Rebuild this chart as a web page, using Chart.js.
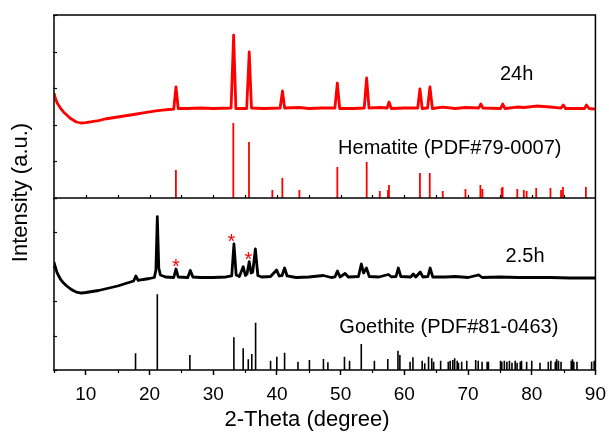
<!DOCTYPE html>
<html>
<head>
<meta charset="utf-8">
<script src="https://cdn.jsdelivr.net/npm/chart.js@4.4.0/dist/chart.umd.min.js"></script>
<style>
  html, body { margin: 0; padding: 0; background: #fff; }
</style>
</head>
<body>
<canvas id="xrd" width="609" height="432"></canvas>
<script>
const FONT = '"Liberation Sans", Arial, Helvetica, sans-serif';

// Measured pattern, sample after 24 h (2θ in degrees, intensity in counts)
const theta24h = [5.0, 5.2, 5.5, 6.0, 6.5, 7.0, 7.5, 8.0, 8.5, 9.2, 10.0, 11.0, 12.0, 13.0, 14.0, 15.0, 16.0, 17.0, 18.0, 19.0, 20.0, 21.0, 22.0, 23.0, 23.8, 24.15, 24.5, 26.0, 28.0, 30.0, 32.8, 33.2, 33.55, 35.25, 35.65, 36.0, 38.0, 40.5, 40.87, 41.2, 43.5, 45.0, 47.0, 49.1, 49.48, 49.85, 52.0, 53.7, 54.08, 54.45, 56.2, 57.3, 57.6, 57.95, 60.0, 62.1, 62.45, 62.8, 63.65, 64.02, 64.4, 66.0, 68.0, 69.6, 71.7, 72.0, 72.35, 75.1, 75.45, 75.8, 77.7, 78.8, 80.7, 82.9, 84.6, 84.95, 85.3, 88.3, 88.6, 89.0, 90.0];
const counts24h = [2891, 2746, 2601, 2456, 2341, 2254, 2167, 2109, 2051, 2022, 2036, 2065, 2094, 2138, 2167, 2196, 2225, 2254, 2283, 2312, 2341, 2370, 2398, 2413, 2427, 3065, 2442, 2442, 2456, 2442, 2456, 4570, 2442, 2442, 4078, 2456, 2442, 2456, 2949, 2456, 2471, 2442, 2456, 2456, 3180, 2442, 2442, 2456, 3325, 2456, 2471, 2456, 2630, 2442, 2456, 2456, 3007, 2442, 2456, 3065, 2442, 2485, 2442, 2471, 2456, 2572, 2456, 2442, 2572, 2442, 2485, 2471, 2514, 2485, 2456, 2543, 2442, 2442, 2543, 2442, 2427];

// Measured pattern, sample after 2.5 h
const theta2h5 = [5.0, 5.2, 5.5, 6.0, 6.5, 7.0, 7.5, 8.0, 8.5, 9.3, 10.0, 11.0, 12.0, 13.0, 14.0, 15.0, 16.0, 17.0, 17.5, 17.85, 18.2, 19.0, 20.0, 20.75, 21.0, 21.22, 21.45, 21.7, 22.5, 23.8, 24.15, 24.5, 26.0, 26.4, 26.8, 28.0, 30.0, 32.0, 32.9, 33.25, 33.6, 34.1, 34.7, 35.05, 35.3, 35.65, 35.95, 36.2, 36.62, 37.0, 37.6, 39.0, 39.95, 40.35, 40.8, 41.2, 41.6, 43.0, 45.0, 47.3, 48.5, 49.1, 49.5, 49.9, 50.7, 51.2, 52.8, 53.25, 53.6, 54.05, 54.5, 56.0, 57.5, 58.0, 58.7, 59.05, 59.45, 61.0, 61.4, 61.8, 62.5, 62.9, 63.7, 64.05, 64.45, 66.5, 68.0, 70.0, 71.7, 72.2, 75.0, 78.0, 80.0, 83.0, 86.0, 90.0];
const counts2h5 = [2940, 2794, 2620, 2445, 2329, 2242, 2169, 2111, 2067, 2038, 2053, 2082, 2111, 2155, 2198, 2242, 2300, 2358, 2387, 2533, 2402, 2431, 2460, 2489, 2707, 4257, 2765, 2562, 2504, 2489, 2736, 2504, 2489, 2693, 2504, 2489, 2489, 2504, 2533, 3463, 2562, 2518, 2803, 2547, 2591, 2948, 2620, 2649, 3317, 2547, 2504, 2518, 2707, 2533, 2547, 2765, 2533, 2489, 2504, 2547, 2489, 2504, 2678, 2504, 2605, 2504, 2518, 2881, 2620, 2765, 2518, 2504, 2576, 2504, 2518, 2765, 2518, 2504, 2591, 2504, 2649, 2504, 2518, 2765, 2504, 2504, 2518, 2489, 2562, 2489, 2504, 2489, 2489, 2489, 2474, 2474];

// Reference lines: hematite, PDF#79-0007
const hematitePos = [24.14, 33.15, 35.61, 39.28, 40.85, 43.52, 49.48, 54.09, 56.15, 57.43, 57.59, 62.45, 63.99, 66.03, 69.6, 71.94, 72.26, 75.28, 75.43, 77.73, 78.76, 79.2, 80.7, 82.94, 84.6, 84.9, 88.5];
const hematiteInt = [661, 2022, 1472, 82, 429, 82, 748, 893, 53, 82, 226, 574, 574, 53, 111, 226, 111, 140, 169, 111, 82, 53, 140, 140, 82, 169, 169];

// Reference lines: goethite, PDF#81-0463
const goethitePos = [17.8, 21.22, 26.33, 33.24, 34.7, 35.5, 36.05, 36.65, 39.0, 39.98, 41.2, 43.3, 45.1, 47.3, 48.0, 50.6, 51.4, 53.24, 55.3, 57.4, 59.0, 59.3, 60.9, 61.35, 62.8, 63.2, 63.8, 64.3, 64.6, 65.7, 66.9, 67.2, 67.6, 67.9, 68.3, 68.5, 69.0, 69.8, 71.2, 71.6, 72.2, 73.0, 73.2, 75.1, 75.3, 75.7, 76.1, 76.5, 76.9, 77.4, 77.7, 78.2, 78.4, 79.2, 80.0, 81.3, 82.6, 83.0, 83.7, 83.9, 84.2, 84.6, 86.2, 86.4, 86.6, 87.1, 89.4, 89.8];
const goethiteInt = [285, 2001, 236, 751, 431, 111, 265, 1175, 70, 187, 303, 41, 91, 120, 24, 187, 70, 556, 70, 120, 361, 236, 41, 169, 70, -5, 187, 140, 41, 70, 41, 70, 91, 140, 70, 12, 41, 70, 91, 70, 41, 41, 41, 70, 41, 70, 41, 70, 12, 70, 12, 41, 70, 41, 70, 12, 41, 70, 41, 111, 70, 41, 70, 111, 41, 41, 41, 70];

// Axis ranges of the two stacked panels
const xRange = { min: 5, max: 90 };
const topRange = { min: -150, max: 5150 };
const bottomRange = { min: -200, max: 4800 };

function pairs(xs, ys) {
  return xs.map((x, i) => ({ x: x, y: ys[i] }));
}

// Each reference line rises from the panel floor; null points split the segments.
function sticks(xs, ys, floor) {
  const out = [];
  xs.forEach((x, i) => {
    out.push({ x: x, y: floor }, { x: x, y: ys[i] }, { x: x, y: null });
  });
  return out;
}

const notes = [
  { text: '24h', x: 75.0, y: 3441, axis: 'yT', size: 20 },
  { text: 'Hematite (PDF#79-0007)', x: 49.6, y: 1298, axis: 'yT', size: 20 },
  { text: '2.5h', x: 75.9, y: 3114, axis: 'yB', size: 20 },
  { text: 'Goethite (PDF#81-0463)', x: 49.8, y: 1050, axis: 'yB', size: 20 }
];
const stars = [
  { x: 24.15, y: 2948 },
  { x: 32.85, y: 3675 },
  { x: 35.5, y: 3163 }
];

const frame = {
  id: 'frame',
  afterDatasetsDraw(chart) {
    const { ctx, chartArea: a, scales } = chart;
    const x = scales.x, yT = scales.yT, yB = scales.yB;
    ctx.save();
    ctx.strokeStyle = '#000';
    ctx.lineWidth = 1.5;
    ctx.strokeRect(a.left, a.top, a.right - a.left, a.bottom - a.top);
    ctx.beginPath();
    ctx.moveTo(a.left, yT.bottom);
    ctx.lineTo(a.right, yT.bottom);
    ctx.stroke();

    // inner y ticks of both panels
    ctx.lineWidth = 1.2;
    [yT, yB].forEach(s => {
      s.ticks.forEach(t => {
        const py = Math.round(s.getPixelForValue(t.value)) + 0.5;
        ctx.beginPath();
        ctx.moveTo(a.left - 1, py);
        ctx.lineTo(a.left + 3, py);
        ctx.stroke();
      });
    });

    // minor ticks on the bottom axis, small ticks on the panel divider
    for (let v = xRange.min; v <= xRange.max; v += 5) {
      const px = Math.round(x.getPixelForValue(v)) + 0.5;
      if (v % 10 !== 0) {
        ctx.beginPath();
        ctx.moveTo(px, a.bottom);
        ctx.lineTo(px, a.bottom + 3);
        ctx.stroke();
      }
      if (v > xRange.min && v < xRange.max) {
        ctx.beginPath();
        ctx.moveTo(px, yT.bottom);
        ctx.lineTo(px, yT.bottom - 3);
        ctx.stroke();
      }
    }

    ctx.fillStyle = '#000';
    ctx.textAlign = 'left';
    ctx.textBaseline = 'middle';
    notes.forEach(n => {
      ctx.font = n.size + 'px ' + FONT;
      ctx.fillText(n.text, x.getPixelForValue(n.x), scales[n.axis].getPixelForValue(n.y));
    });

    ctx.fillStyle = '#ff0000';
    ctx.textAlign = 'center';
    ctx.textBaseline = 'alphabetic';
    ctx.font = '20px ' + FONT;
    stars.forEach(s => {
      ctx.fillText('*', x.getPixelForValue(s.x), yB.getPixelForValue(s.y) + 11.5);
    });

    ctx.fillStyle = '#000';
    ctx.textAlign = 'center';
    ctx.textBaseline = 'middle';
    ctx.font = '22px ' + FONT;
    ctx.fillText('2-Theta (degree)', 307, 419.5);
    ctx.translate(21, (a.top + a.bottom) / 2);
    ctx.rotate(-Math.PI / 2);
    ctx.fillText('Intensity (a.u.)', 0, 0);
    ctx.restore();
  }
};

const hiddenY = (range, weight) => ({
  type: 'linear',
  position: 'left',
  stack: 'panels',
  stackWeight: weight,
  min: range.min,
  max: range.max,
  ticks: { display: false, stepSize: 1000, includeBounds: false },
  grid: { display: false },
  border: { display: false },
  afterFit: s => { s.width = 0; }
});

new Chart(document.getElementById('xrd'), {
  type: 'line',
  data: {
    datasets: [
      { data: pairs(theta24h, counts24h), yAxisID: 'yT', borderColor: '#ff0000', borderWidth: 2.8 },
      { data: sticks(hematitePos, hematiteInt, topRange.min), yAxisID: 'yT', borderColor: '#ff0000', borderWidth: 1.8, spanGaps: false },
      { data: pairs(theta2h5, counts2h5), yAxisID: 'yB', borderColor: '#000000', borderWidth: 2.8 },
      { data: sticks(goethitePos, goethiteInt, bottomRange.min), yAxisID: 'yB', borderColor: '#000000', borderWidth: 1.6, spanGaps: false }
    ]
  },
  options: {
    responsive: false,
    animation: false,
    devicePixelRatio: 1,
    layout: { padding: { left: 54, right: 12, top: 15, bottom: 0 } },
    plugins: { legend: { display: false }, tooltip: { enabled: false } },
    elements: {
      point: { radius: 0 },
      line: { tension: 0, borderJoinStyle: 'round', fill: false }
    },
    scales: {
      x: {
        type: 'linear',
        position: 'bottom',
        min: xRange.min,
        max: xRange.max,
        ticks: {
          stepSize: 10, includeBounds: false, autoSkip: false, maxRotation: 0,
          color: '#000', padding: 3, font: { family: FONT, size: 19, lineHeight: 1.8 }
        },
        grid: { display: true, drawOnChartArea: false, drawTicks: true, tickLength: 5, tickColor: '#000', tickWidth: 1.5 },
        border: { display: false },
        afterFit: s => { s.height = 62; }
      },
      yB: hiddenY(bottomRange, 172),
      yT: hiddenY(topRange, 183)
    }
  },
  plugins: [frame]
});
</script>
</body>
</html>
